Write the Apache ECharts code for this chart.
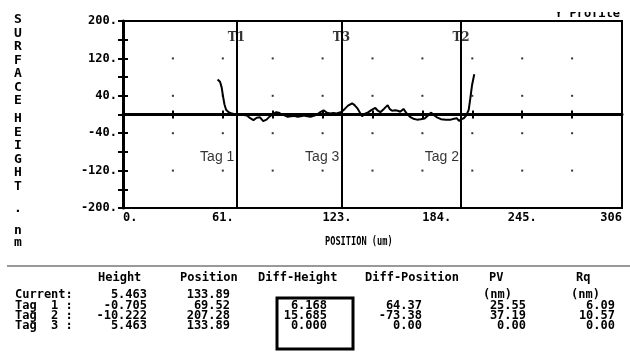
<!DOCTYPE html>
<html><head><meta charset="utf-8">
<script src="https://cdn.jsdelivr.net/npm/echarts@6/dist/echarts.min.js"></script>
<style>html,body{margin:0;padding:0;background:#fff}#c{width:630px;height:352px}</style>
</head><body><div id="c"></div>
<script>
// ---- data ----
const profileX = [58.0,59.5,60.5,61.3,62.2,63.2,64.8,66.8,69.52,72,74,76,78,80,82,84,86,88,90,92,94,95.5,97,99,101,103,105,107,109,111,113,115,117,119,121,123,125,127,129,131,133.89,136,138,140.5,142,144,146.6,148.5,150.5,152.5,154.7,156,157.8,160,162.3,163.5,165,167,168.5,170,172,174,176,178,180.3,182.5,185,187,189,190.5,192.5,195,198,201,203,204.8,206,207.28,209,210.5,212,213,214,215.4];
const profileY = [75,70,58,40,22,10,5,2,-0.705,0,-1,-2,-8,-12,-7,-6,-14,-11,-4,1,5,4,1,-2,-5,-4,-3,-5,-4,-2,-4,-5,-3,0,5,9,4,2,3,2,5.463,12,19,24,20,12,-4,2,5,10,14,9,5,12,20,12,8,9,8,6,12,2,-5,-9,-11,-10,-8.5,-2,4,-1,-6,-10,-11,-11,-9,-8,-14,-10.222,-8,-2,10,35,62,86];
const xTickLabels = ['0.','61.','123.','184.','245.','306'];
const yTickLabels = ['-200.','-120.','-40.','40.','120.','200.'];
const tagNames = ['T1','T3','T2'];
const tagTexts = ['Tag 1','Tag 3','Tag 2'];
const tagPositions = [69.52, 133.89, 207.28];
const tableHeaders = ['Height','Position','Diff-Height','Diff-Position','PV','Rq'];
const tableRowLabels = ['Current:','Tag  1 :','Tag  2 :','Tag  3 :'];
const heights = ['5.463','-0.705','-10.222','5.463'];
const positions = ['133.89','69.52','207.28','133.89'];
const diffHeights = ['6.168','15.685','0.000'];
const diffPositions = ['64.37','-73.38','0.00'];
const pvValues = ['25.55','37.19','0.00'];
const rqValues = ['6.09','10.57','0.00'];
const titleText = 'Y Profile';
const xAxisTitle = 'POSITION (um)';
const yAxisTitle = ['S','U','R','F','A','C','E','H','E','I','G','H','T','.','n','m'];

// ---- axis config ----
const X_MIN = 0, X_MAX = 306, X_STEP = 30.6;
const Y_MIN = -200, Y_MAX = 200, Y_STEP = 40;
const MONO = '"DejaVu Sans Mono", monospace';
const CW = 7.2;

const dotXs = []; for (let i = 1; i < 10; i++) dotXs.push(+(X_STEP * i).toFixed(1));
const dotYs = [120, 40, -40, -120];
const dots = []; dotXs.forEach(x => dotYs.forEach(y => dots.push([x, y])));

// per-label horizontal alignment of x tick labels
const xAlign = ['l','c','l','l','c','r'];
const rich = {};
xTickLabels.forEach((t, i) => {
  const w = t.length * CW;
  rich['x' + i] = {fontFamily: MONO, fontWeight: 'bold', fontSize: 12, color: '#000',
    padding: xAlign[i] === 'l' ? [0,0,0,w] : xAlign[i] === 'r' ? [0,w,0,0] : 0};
});

const chart = echarts.init(document.getElementById('c'), null, {renderer: 'canvas'});

const graphic = [];
// title (top cut off)
graphic.push({type:'text', x: 555, y: 20, z: 10, style:{text: titleText, font: 'bold 12px ' + MONO, fill:'#000', align:'left', verticalAlign:'bottom'}});
graphic.push({type:'rect', shape:{x:540, y:0, width:90, height:12}, z: 11, style:{fill:'#fff'}});
// vertical y axis title
const yTitleY = [20,33.5,47,60.5,74,87.5,101,119,132.5,146,159.5,173,186.5,208.5,230.5,242.5];
yAxisTitle.forEach((ch, i) => {
  graphic.push({type:'text', x: 18, y: yTitleY[i], style:{text: ch, font: 'bold 13px ' + MONO, fill:'#000', align:'center', verticalAlign:'middle'}});
});
// x axis title (condensed)
graphic.push({type:'text', x: 325, y: 242, scaleX: 0.72, style:{text: xAxisTitle, font: 'bold 12px ' + MONO, fill:'#000', align:'left', verticalAlign:'middle'}});
// separator
graphic.push({type:'line', shape:{x1:7, y1:266, x2:630, y2:266}, style:{stroke:'#999', lineWidth:2}});
// table
const rowY = [295, 305.5, 316, 326.3];
const hdrY = 278;
const hdrX = [98, 180, 258, 365, 489, 576];
tableHeaders.forEach((h, i) => graphic.push({type:'text', x: hdrX[i], y: hdrY, style:{text:h, font:'bold 12px ' + MONO, fill:'#000', align:'left', verticalAlign:'middle'}}));
[483, 571].forEach(x => graphic.push({type:'text', x: x, y: rowY[0], style:{text:'(nm)', font:'bold 12px ' + MONO, fill:'#000', align:'left', verticalAlign:'middle'}}));
tableRowLabels.forEach((t, i) => graphic.push({type:'text', x: 15, y: rowY[i], style:{text:t, font:'bold 12px ' + MONO, fill:'#000', align:'left', verticalAlign:'middle'}}));
graphic.push({type:'text', x: 15, y: 358, style:{text:'Tag  4 :', font:'bold 12px ' + MONO, fill:'#000', align:'left', verticalAlign:'middle'}});
function col(vals, right, startRow) {
  vals.forEach((v, i) => graphic.push({type:'text', x: right, y: rowY[i + startRow], style:{text:v, font:'bold 12px ' + MONO, fill:'#000', align:'right', verticalAlign:'middle'}}));
}
col(heights, 147, 0);
col(positions, 230, 0);
col(diffHeights, 327, 1);
col(diffPositions, 422, 1);
col(pvValues, 526, 1);
col(rqValues, 615, 1);
graphic.push({type:'rect', shape:{x:277, y:298, width:76, height:51}, style:{fill:'none', stroke:'#000', lineWidth:3}});

const option = {
  animation: false,
  backgroundColor: '#fff',
  grid: {left: 123, right: 8, top: 21, bottom: 144, show: true, borderColor: '#000', borderWidth: 2, backgroundColor: '#fff'},
  xAxis: [
    {type:'value', min:X_MIN, max:X_MAX, interval:X_STEP, position:'bottom',
     axisLine:{show:true, lineStyle:{color:'#000', width:3}},
     axisTick:{show:true, length:4, lineStyle:{color:'#000', width:2}},
     axisLabel:{show:true, margin:4, color:'#000', showMinLabel:true, showMaxLabel:true, hideOverlap:false,
       formatter: v => { const k = Math.round((v - X_MIN) / X_STEP); if (k % 2) return ''; const i = k / 2; return '{x' + i + '|' + xTickLabels[i] + '}'; }, rich: rich},
     splitLine:{show:false}},
    {type:'value', min:X_MIN, max:X_MAX, interval:X_STEP, position:'bottom',
     axisLine:{show:false}, axisTick:{show:true, inside:true, length:4, lineStyle:{color:'#000', width:2}},
     axisLabel:{show:false}, splitLine:{show:false}}
  ],
  yAxis: [
    {type:'value', min:Y_MIN, max:Y_MAX, interval:Y_STEP, position:'left',
     axisLine:{show:true, lineStyle:{color:'#000', width:3}},
     axisTick:{show:true, length:5, lineStyle:{color:'#000', width:2}},
     axisLabel:{show:true, margin:6, color:'#000', fontFamily: MONO, fontWeight:'bold', fontSize:12, showMinLabel:true, showMaxLabel:true,
       formatter: v => { const k = Math.round((v - Y_MIN) / Y_STEP); if (k % 2) return ''; return yTickLabels[k / 2]; }},
     splitLine:{show:false}},
    {type:'value', min:Y_MIN, max:Y_MAX, interval:Y_STEP, position:'left', offset:0,
     axisLine:{show:false}, axisTick:{show:true, inside:true, length:5, lineStyle:{color:'#000', width:2}},
     axisLabel:{show:false}, splitLine:{show:false}}
  ],
  series: [
    {type:'scatter', name:'grid', data:dots, symbol:'rect', symbolSize:2, itemStyle:{color:'#000'}, silent:true, z:1},
    {type:'line', name:'profile', data: profileX.map((x, i) => [x, profileY[i]]), showSymbol:false, symbol:'none',
     lineStyle:{color:'#000', width:2}, z:5,
     markLine:{silent:true, symbol:'none', animation:false, label:{show:false},
       lineStyle:{color:'#000', width:2, type:'solid'},
       data: tagPositions.map(x => ({xAxis:x})).concat([{yAxis:0}])}},
    {type:'scatter', name:'tagIds', data: tagPositions.map((x, i) => [x, 163, tagNames[i]]), symbolSize:0, z:6,
     label:{show:true, position:'inside', formatter: p => p.data[2], fontFamily:'"DejaVu Serif", serif', fontWeight:'bold', fontSize:12, color:'#000'}},
    {type:'scatter', name:'tagTexts', data: tagPositions.map((x, i) => [x, -91, tagTexts[i]]), symbolSize:0, z:6,
     label:{show:true, position:'left', distance:2, formatter: p => p.data[2], fontFamily:'"Liberation Sans", Arial, sans-serif', fontSize:14, color:'#000'}}
  ],
  graphic: graphic
};
chart.setOption(option);
</script>
</body></html>
